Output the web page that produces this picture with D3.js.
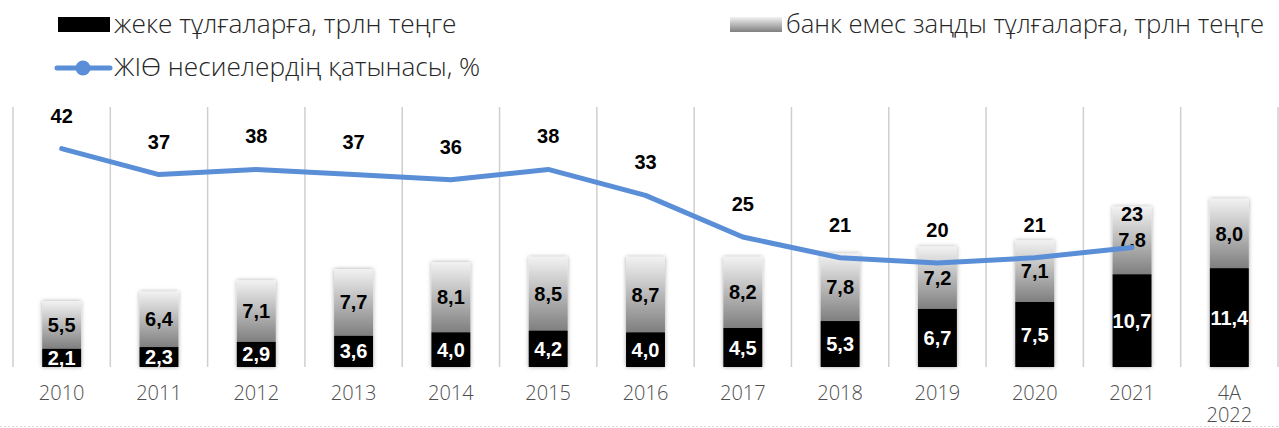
<!DOCTYPE html>
<html>
<head>
<meta charset="utf-8">
<script src="https://cdn.jsdelivr.net/npm/d3@7"></script>
<style>
  body { margin: 0; background: #fff; }
  svg { display: block; }
</style>
</head>
<body>
<div id="chart"></div>
<script>
// donnees
const categories = ["2010", "2011", "2012", "2013", "2014", "2015", "2016", "2017", "2018", "2019", "2020", "2021", "4А 2022"];
const individuals = [2.1, 2.3, 2.9, 3.6, 4.0, 4.2, 4.0, 4.5, 5.3, 6.7, 7.5, 10.7, 11.4];
const legalEntities = [5.5, 6.4, 7.1, 7.7, 8.1, 8.5, 8.7, 8.2, 7.8, 7.2, 7.1, 7.8, 8.0];
const gdpShare = [42, 37, 38, 37, 36, 38, 33, 25, 21, 20, 21, 23, null];
const legendLabels = ["жеке тұлғаларға, трлн теңге", "банк емес заңды тұлғаларға, трлн теңге", "ЖІӨ несиелердің қатынасы, %"];

const width = 1279,
    height = 428;
const plot = { left: 13, right: 1278, top: 107, bottom: 367 };

const lightFont = "'Open Sans', 'Noto Sans', sans-serif";
const boldFont = "'Liberation Sans', Arial, sans-serif";
const lineColor = "#5a8ed6";

var svg = d3.select("#chart")
    .append("svg")
    .attr("width", width)
    .attr("height", height);

var defs = svg.append("defs");

// degrade gris des barres
var grad = defs.append("linearGradient")
    .attr("id", "greyGrad")
    .attr("x1", 0).attr("y1", 0)
    .attr("x2", 0).attr("y2", 1);
grad.append("stop").attr("offset", "0%").attr("stop-color", "#f2f2f2");
grad.append("stop").attr("offset", "100%").attr("stop-color", "#7f7f7f");

var shadow = defs.append("filter")
    .attr("id", "barShadow")
    .attr("x", "-30%").attr("y", "-10%")
    .attr("width", "160%").attr("height", "120%");
shadow.append("feDropShadow")
    .attr("dx", 0).attr("dy", 0)
    .attr("stdDeviation", 2)
    .attr("flood-color", "#000")
    .attr("flood-opacity", 0.35);

// echelles
var x = d3.scaleBand()
    .domain(categories)
    .range([plot.left, plot.right])
    .paddingInner(0.6)
    .paddingOuter(0.3);

var yBar = d3.scaleLinear()
    .domain([0, 30])
    .range([plot.bottom, plot.top]);

var yLine = d3.scaleLinear()
    .domain([0, 50])
    .range([plot.bottom, plot.top]);

var bw = x.bandwidth();
var step = x.step();

// separateurs verticaux entre categories
var sepX = categories.map(d => x(d) + bw / 2 - step / 2).concat([plot.right]);
svg.append("g")
    .selectAll("line")
    .data(sepX)
    .join("line")
    .attr("x1", d => d).attr("x2", d => d)
    .attr("y1", plot.top).attr("y2", plot.bottom)
    .style("stroke", "#cfcfcf")
    .style("stroke-width", 1.5);

// ligne pointillee du bas
svg.append("line")
    .attr("x1", 0).attr("x2", width)
    .attr("y1", height - 1.5).attr("y2", height - 1.5)
    .style("stroke", "#d9d9d9")
    .style("stroke-dasharray", "2,2");

// barres empilees
var stackData = categories.map((c, i) => ({ cat: c, a: individuals[i], b: legalEntities[i] }));

var bars = svg.append("g").attr("filter", "url(#barShadow)");

bars.selectAll(".grey")
    .data(stackData)
    .join("rect")
    .attr("class", "grey")
    .attr("x", d => x(d.cat))
    .attr("width", bw)
    .attr("y", d => yBar(d.a + d.b))
    .attr("height", d => yBar(d.a) - yBar(d.a + d.b))
    .style("fill", "url(#greyGrad)");

bars.selectAll(".black")
    .data(stackData)
    .join("rect")
    .attr("class", "black")
    .attr("x", d => x(d.cat))
    .attr("width", bw)
    .attr("y", d => yBar(d.a))
    .attr("height", d => yBar(0) - yBar(d.a))
    .style("fill", "#000");

var fmt = v => d3.format(".1f")(v).replace(".", ",");

// etiquettes des barres
svg.append("g")
    .selectAll("text")
    .data(stackData)
    .join("text")
    .attr("x", d => x(d.cat) + bw / 2)
    .attr("y", d => (yBar(d.a) + yBar(0)) / 2 + 7)
    .attr("text-anchor", "middle")
    .style("font-family", boldFont)
    .style("font-weight", "bold")
    .style("font-size", "20px")
    .style("fill", "#fff")
    .text(d => fmt(d.a));

svg.append("g")
    .selectAll("text")
    .data(stackData)
    .join("text")
    .attr("x", d => x(d.cat) + bw / 2)
    .attr("y", d => (yBar(d.a) + yBar(d.a + d.b)) / 2 + 7)
    .attr("text-anchor", "middle")
    .style("font-family", boldFont)
    .style("font-weight", "bold")
    .style("font-size", "20px")
    .style("fill", "#000")
    .text(d => fmt(d.b));

// courbe ZhIO
var lineData = categories.map((c, i) => ({ cat: c, v: gdpShare[i] })).filter(d => d.v != null);

var line = d3.line()
    .x(d => x(d.cat) + bw / 2)
    .y(d => yLine(d.v));

svg.append("path")
    .datum(lineData)
    .attr("d", line)
    .style("fill", "none")
    .style("stroke", lineColor)
    .style("stroke-width", 5)
    .style("stroke-linecap", "round")
    .style("stroke-linejoin", "round");

svg.append("g")
    .selectAll("text")
    .data(lineData)
    .join("text")
    .attr("x", d => x(d.cat) + bw / 2)
    .attr("y", d => yLine(d.v) - 26)
    .attr("text-anchor", "middle")
    .style("font-family", boldFont)
    .style("font-weight", "bold")
    .style("font-size", "20px")
    .style("fill", "#000")
    .text(d => d.v);

// axe des categories
var axis = svg.append("g")
    .attr("transform", `translate(0,${plot.bottom})`)
    .call(d3.axisBottom(x).tickSize(0).tickPadding(0).tickFormat(""));
axis.select(".domain").remove();

axis.selectAll(".tick")
    .append("text")
    .style("font-family", lightFont)
    .style("font-weight", 300)
    .style("font-size", "20px")
    .style("fill", "#4d4d4d")
    .attr("text-anchor", "middle")
    .selectAll("tspan")
    .data(d => d.split(" "))
    .join("tspan")
    .attr("x", 0)
    .attr("y", (d, i) => 33 + i * 22)
    .text(d => d);

// legende
var legend = svg.append("g")
    .style("font-family", lightFont)
    .style("font-weight", 300)
    .style("font-size", "24px")
    .style("fill", "#262626");

// largeur voulue de chaque texte de legende
function fitText(sel, target) {
    var w = sel.node().getComputedTextLength();
    sel.style("font-size", (24 * target / w).toFixed(1) + "px");
}

legend.append("rect")
    .attr("x", 58).attr("y", 17)
    .attr("width", 52).attr("height", 15)
    .style("fill", "#000");
legend.append("text")
    .attr("x", 114).attr("y", 33)
    .text(legendLabels[0])
    .call(fitText, 342);

legend.append("rect")
    .attr("x", 730).attr("y", 17)
    .attr("width", 52).attr("height", 15)
    .style("fill", "url(#greyGrad)");
legend.append("text")
    .attr("x", 786).attr("y", 33)
    .text(legendLabels[1])
    .call(fitText, 478);

legend.append("line")
    .attr("x1", 57).attr("x2", 110)
    .attr("y1", 68).attr("y2", 68)
    .style("stroke", lineColor)
    .style("stroke-width", 5)
    .style("stroke-linecap", "round");
legend.append("circle")
    .attr("cx", 83).attr("cy", 68)
    .attr("r", 7.5)
    .style("fill", lineColor);
legend.append("text")
    .attr("x", 114).attr("y", 76)
    .text(legendLabels[2])
    .call(fitText, 366);
</script>
</body>
</html>
